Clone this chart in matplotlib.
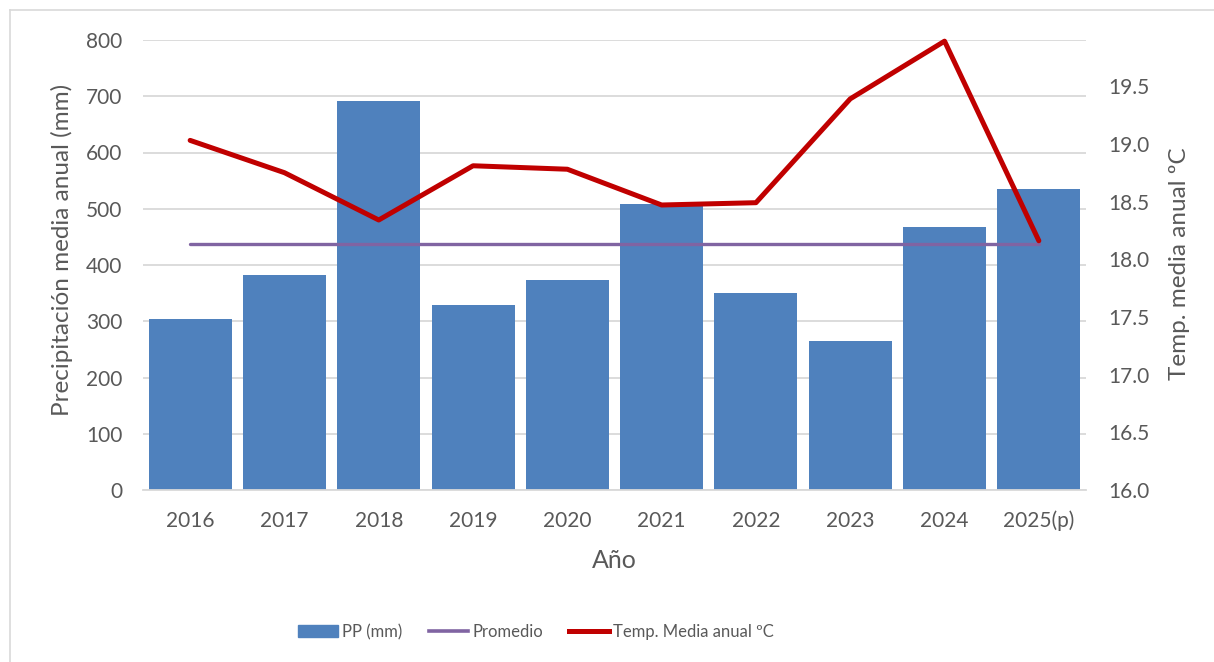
import numpy as np
import matplotlib
matplotlib.use('Agg')
import matplotlib.pyplot as plt
from matplotlib.lines import Line2D
from matplotlib.patches import Patch
from matplotlib.ticker import FormatStrFormatter

# datos
anios = ['2016', '2017', '2018', '2019', '2020', '2021', '2022', '2023', '2024', '2025(p)']
pp_mm = [304, 382, 691, 329, 373, 508, 350, 265, 467, 535]
temp_media = [19.03, 18.75, 18.34, 18.81, 18.78, 18.47, 18.49, 19.39, 19.89, 18.16]
promedio_pp = 438

azul = '#4F81BD'
morado = '#8064A2'
rojo = '#C00000'
gris_txt = '#595959'
gris_lin = '#D9D9D9'

plt.rcParams['font.family'] = ['Lato', 'DejaVu Sans']

W, H = 1214, 662
fig = plt.figure(figsize=(W / 100, H / 100), dpi=100)
ax = fig.add_axes([143 / W, 1 - 490 / H, 943 / W, 450 / H])

x = np.arange(len(anios))
ax.bar(x, pp_mm, width=0.88, color=azul, zorder=2)
ax.plot(x, [promedio_pp] * len(x), color=morado, lw=2.4, zorder=3, solid_capstyle='round')

ax.set_xlim(-0.5, len(x) - 0.5)
ax.set_ylim(0, 800)
ax.set_yticks(range(0, 801, 100))
ax.set_xticks(x)
ax.set_xticklabels(anios)
ax.grid(axis='y', color=gris_lin, lw=1.3, zorder=0)
ax.set_axisbelow(True)
for s in ['top', 'right', 'left']:
    ax.spines[s].set_visible(False)
ax.spines['bottom'].set_color(gris_lin)
ax.spines['bottom'].set_linewidth(1.3)
ax.tick_params(axis='both', length=0, labelsize=15, colors=gris_txt)
ax.tick_params(axis='y', pad=15)
ax.tick_params(axis='x', pad=15)

# eje secundario: temperatura
ax2 = ax.twinx()
ax2.plot(x, temp_media, color=rojo, lw=3.6, solid_capstyle='round', solid_joinstyle='round',
         clip_on=False, zorder=4)
ax2.set_ylim(16, 19.9)
ax2.set_yticks(np.arange(16, 19.51, 0.5))
ax2.yaxis.set_major_formatter(FormatStrFormatter('%.1f'))
for s in ['top', 'right', 'left', 'bottom']:
    ax2.spines[s].set_visible(False)
ax2.tick_params(axis='y', length=0, labelsize=15, colors=gris_txt, pad=16)

# titulos de ejes
fig.text(62 / W, 1 - 250 / H, 'Precipitación media anual (mm)', rotation=90,
         ha='center', va='center', fontsize=17.5, color=gris_txt)
fig.text(1180 / W, 1 - 264 / H, 'Temp. media anual ºC', rotation=90,
         ha='center', va='center', fontsize=17.5, color=gris_txt)
fig.text(614 / W, 1 - 561 / H, 'Año', ha='center', va='center', fontsize=18, color=gris_txt)

# leyenda
handles = [Patch(color=azul, label='PP (mm)'),
           Line2D([], [], color=morado, lw=2.6, label='Promedio'),
           Line2D([], [], color=rojo, lw=3.6, label='Temp. Media anual ºC')]
fig.legend(handles=handles, loc='center', bbox_to_anchor=(536 / W, 1 - 632 / H), ncol=3,
           frameon=False, fontsize=12, handlelength=2.35, handletextpad=0.25,
           columnspacing=1.6, labelcolor=gris_txt)

# borde del grafico
fig.add_artist(Line2D([10 / W, 10 / W], [0, 1 - 10 / H], color=gris_lin, lw=1.2,
                      transform=fig.transFigure))
fig.add_artist(Line2D([10 / W, 1], [1 - 10 / H, 1 - 10 / H], color=gris_lin, lw=1.2,
                      transform=fig.transFigure))

fig.savefig('out.png', dpi=100)
